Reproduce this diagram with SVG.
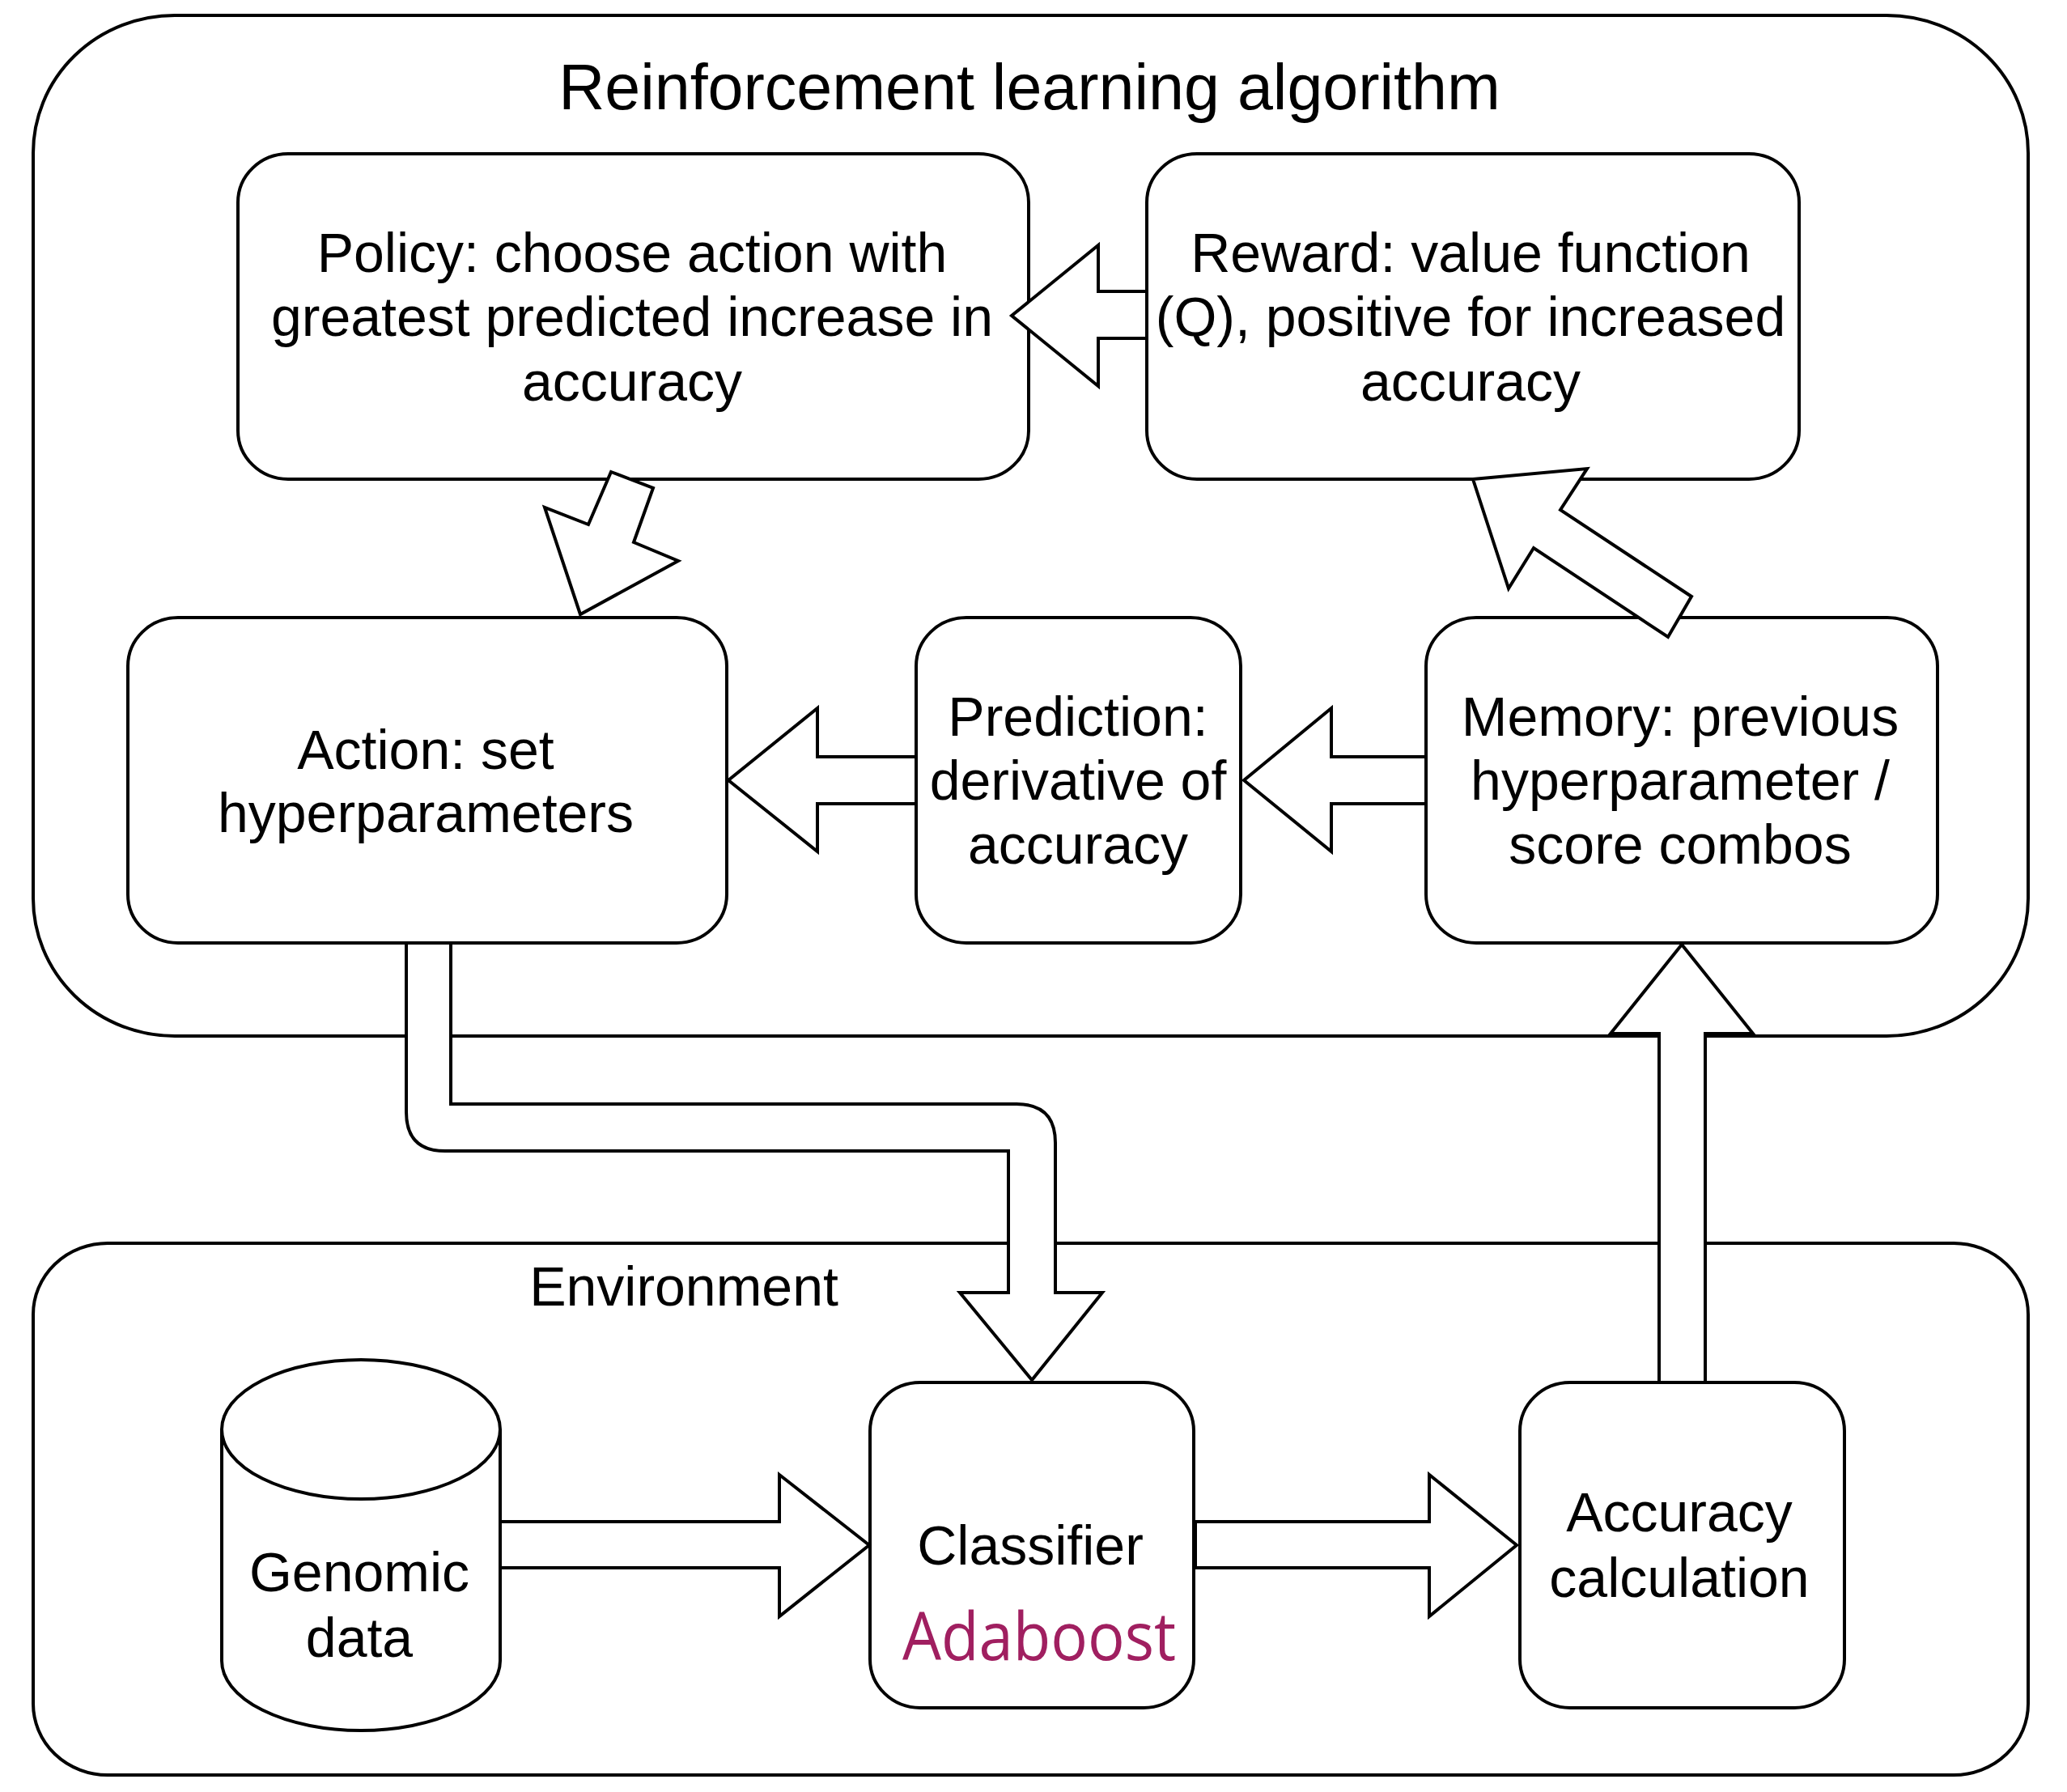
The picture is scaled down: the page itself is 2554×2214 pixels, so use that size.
<svg xmlns="http://www.w3.org/2000/svg" width="2554" height="2214" viewBox="0 0 2554 2214">
<style>
.box{fill:#ffffff;stroke:#000000;stroke-width:4}
.arr{fill:#ffffff;stroke:#000000;stroke-width:4;stroke-linejoin:miter}
.t{font-family:"Liberation Sans",Arial,Helvetica,sans-serif;font-size:68px;fill:#000000;text-anchor:middle}
.title{font-family:"Liberation Sans",Arial,Helvetica,sans-serif;font-size:79px;fill:#000000;text-anchor:middle}
.ada{font-family:"Open Sans","Noto Sans",sans-serif;font-size:82px;fill:#A01F60}
</style>
<rect width="2554" height="2214" fill="#ffffff"/>
<g id="rl-container">
<rect class="box" x="41" y="19" width="2465" height="1261" rx="175" ry="170"/>
<text class="title" x="1272" y="135">Reinforcement learning algorithm</text>
</g>
<g id="environment-container">
<rect class="box" x="41" y="1536" width="2465" height="657" rx="92" ry="88"/>
<text class="t" x="845" y="1613">Environment</text>
</g>
<g id="policy">
<rect class="box" x="294" y="190" width="977" height="402" rx="62" ry="60"/>
<text class="t" x="781" y="336">Policy: choose action with</text>
<text class="t" x="781" y="415">greatest predicted increase in</text>
<text class="t" x="781" y="495">accuracy</text>
</g>
<g id="reward">
<rect class="box" x="1417" y="190" width="806" height="402" rx="62" ry="60"/>
<text class="t" x="1817" y="336">Reward: value function</text>
<text class="t" x="1817" y="415">(Q), positive for increased</text>
<text class="t" x="1817" y="495">accuracy</text>
</g>
<g id="action">
<rect class="box" x="158" y="763" width="740" height="402" rx="62" ry="60"/>
<text class="t" x="526" y="950">Action: set</text>
<text class="t" x="526" y="1028">hyperparameters</text>
</g>
<g id="prediction">
<rect class="box" x="1132" y="763" width="401" height="402" rx="62" ry="60"/>
<text class="t" x="1332" y="909">Prediction:</text>
<text class="t" x="1332" y="988">derivative of</text>
<text class="t" x="1332" y="1067">accuracy</text>
</g>
<g id="memory">
<rect class="box" x="1762" y="763" width="632" height="402" rx="62" ry="60"/>
<text class="t" x="2076" y="909">Memory: previous</text>
<text class="t" x="2076" y="988">hyperparameter /</text>
<text class="t" x="2076" y="1067">score combos</text>
</g>
<g id="genomic-data">
<path class="box" d="M274 1766 L274 2052 A172 86 0 0 0 618 2052 L618 1766 A172 86 0 0 0 274 1766 Z"/>
<path fill="none" stroke="#000000" stroke-width="4" d="M274 1766 A172 86 0 0 0 618 1766"/>
<text class="t" x="444" y="1966">Genomic</text>
<text class="t" x="444" y="2047">data</text>
</g>
<g id="classifier">
<rect class="box" x="1075" y="1708" width="400" height="402" rx="62" ry="60"/>
<text class="t" x="1273" y="1933">Classifier</text>
<text class="ada" x="1115" y="2051" textLength="338" lengthAdjust="spacingAndGlyphs">Adaboost</text>
</g>
<g id="accuracy">
<rect class="box" x="1878" y="1708" width="401" height="402" rx="62" ry="60"/>
<text class="t" x="2075" y="1892">Accuracy</text>
<text class="t" x="2075" y="1973">calculation</text>
</g>
<g id="connectors">
<polygon class="arr" points="1417,360 1357,360 1357,303 1250,390 1357,477 1357,418 1417,418"/>
<polygon class="arr" points="755,583 807,603 783,670 838,693 717,759 673,627 727,648"/>
<polygon class="arr" points="1820,592 1961,579 1928,630 2090,737 2061,787 1895,677 1864,727"/>
<polygon class="arr" points="1762,935 1645,935 1645,875 1537,964 1645,1052 1645,993 1762,993"/>
<polygon class="arr" points="1132,935 1010,935 1010,875 900,964 1010,1052 1010,993 1132,993"/>
<path class="arr" d="M502 1165 L502 1374 Q502 1422 550 1422 L1246 1422 L1246 1597 L1186 1597 L1275 1705 L1362 1597 L1304 1597 L1304 1412 Q1304 1364 1256 1364 L557 1364 L557 1165 Z"/>
<polygon class="arr" points="2050,1708 2050,1277 1990,1277 2078,1167 2166,1277 2107,1277 2107,1708"/>
<polygon class="arr" points="618,1880 963,1880 963,1822 1074,1909 963,1997 963,1937 618,1937"/>
<polygon class="arr" points="1477,1880 1766,1880 1766,1822 1874,1909 1766,1997 1766,1937 1477,1937"/>
</g>
</svg>
